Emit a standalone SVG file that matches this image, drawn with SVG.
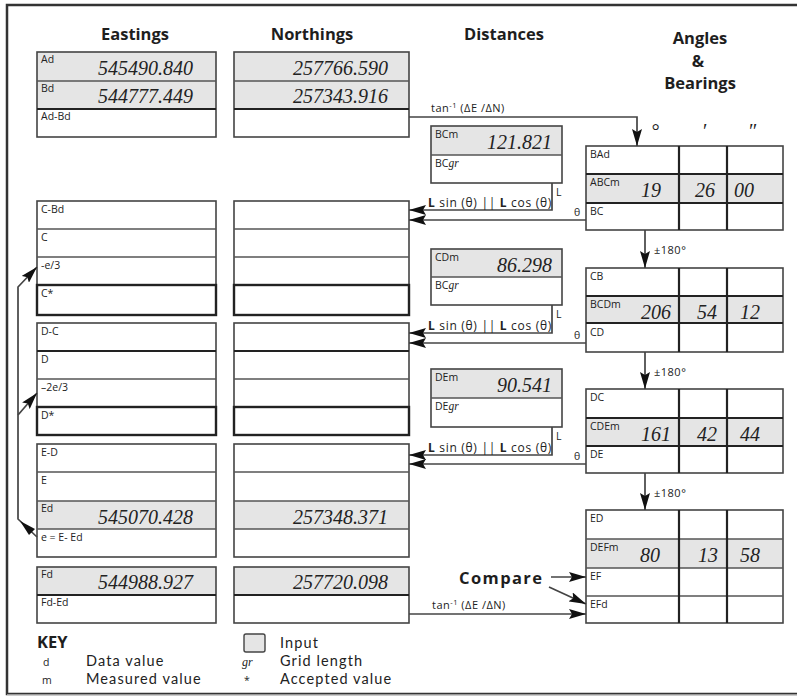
<svg xmlns="http://www.w3.org/2000/svg" width="797" height="697" viewBox="0 0 797 697">
<style>
.bg{fill:#fff}
.box{fill:none;stroke:#444;stroke-width:1.6}
.bold{fill:none;stroke:#222;stroke-width:2.4}
.in{fill:#e5e5e5}
.dv{stroke:#555;stroke-width:1.5}
.dk{stroke:#222;stroke-width:2.2}
.h{font-family:"Open Sans",Lato,sans-serif;font-weight:bold;font-size:16.5px;fill:#1e1e1e}
.lb{font-family:"Open Sans","DejaVu Sans",sans-serif;font-size:10.5px;fill:#222}
.v{font-family:"Liberation Serif",serif;font-style:italic;font-size:20px;fill:#222}
.k{font-family:Lato,"Open Sans",sans-serif;font-size:14.5px;letter-spacing:1.1px;fill:#222}
.gr{font-family:"Liberation Serif",serif;font-style:italic}
.ls{font-size:12px;letter-spacing:0.7px}
.tn{font-size:11px;letter-spacing:0.5px}
.cn{fill:none;stroke:#444;stroke-width:1.7}
.ah{fill:#111}
</style>
<defs>
<marker id="arr" markerUnits="userSpaceOnUse" markerWidth="17" markerHeight="10" refX="17" refY="5" orient="auto"><path d="M0,0 L17,5 L0,10 L3,5 z" class="ah"/></marker>
</defs>
<rect width="797" height="697" class="bg"/>
<path d="M797,5 H7 V694 H797" fill="none" stroke="#333" stroke-width="2.5"/>
<line x1="7" y1="694.5" x2="797" y2="694.5" stroke="#999" stroke-width="1"/>

<!-- headings -->
<g id="headings">
<text class="h" x="135" y="40" text-anchor="middle">Eastings</text>
<text class="h" x="312" y="40" text-anchor="middle">Northings</text>
<text class="h" x="504" y="40" text-anchor="middle">Distances</text>
<text class="h" x="700" y="44" text-anchor="middle">Angles</text>
<text class="h" x="698" y="67" text-anchor="middle">&amp;</text>
<text class="h" x="700" y="89" text-anchor="middle">Bearings</text>
<text class="v" x="655" y="138" font-size="12" fill="#888" text-anchor="middle">°</text>
<text class="v" x="704" y="138" font-size="12" text-anchor="middle">′</text>
<text class="v" x="752" y="138" font-size="12" text-anchor="middle">″</text>
</g>

<!-- Eastings -->
<g id="east-1">
<rect x="37" y="52" width="179" height="57" class="in"/>
<rect x="37" y="52" width="179" height="85" class="box"/>
<line x1="37" y1="81" x2="216" y2="81" class="dv"/>
<line x1="37" y1="109" x2="216" y2="109" class="dk"/>
<text class="lb" x="41" y="63">Ad</text>
<text class="lb" x="41" y="92">Bd</text>
<text class="lb" x="41" y="120">Ad-Bd</text>
<text class="v" x="193" y="75" text-anchor="end">545490.840</text>
<text class="v" x="193" y="103" text-anchor="end">544777.449</text>
</g>
<g id="east-2">
<rect x="37" y="201" width="179" height="114" class="box"/>
<line x1="37" y1="229" x2="216" y2="229" class="dv"/>
<line x1="37" y1="257" x2="216" y2="257" class="dv"/>
<rect x="37" y="285" width="179" height="30" class="bold"/>
<text class="lb" x="41" y="213">C-Bd</text>
<text class="lb" x="41" y="241">C</text>
<text class="lb" x="41" y="269">-e/3</text>
<text class="lb" x="41" y="297">C*</text>
</g>
<g id="east-3">
<rect x="37" y="323" width="179" height="112" class="box"/>
<line x1="37" y1="351" x2="216" y2="351" class="dk"/>
<line x1="37" y1="379" x2="216" y2="379" class="dv"/>
<rect x="37" y="407" width="179" height="28" class="bold"/>
<text class="lb" x="41" y="335">D-C</text>
<text class="lb" x="41" y="363">D</text>
<text class="lb" x="41" y="391">–2e/3</text>
<text class="lb" x="41" y="419">D*</text>
</g>
<g id="east-4">
<rect x="37" y="501" width="179" height="28" class="in"/>
<rect x="37" y="444" width="179" height="113" class="box"/>
<line x1="37" y1="472" x2="216" y2="472" class="dv"/>
<line x1="37" y1="501" x2="216" y2="501" class="dv"/>
<line x1="37" y1="529" x2="216" y2="529" class="dv"/>
<text class="lb" x="41" y="456">E-D</text>
<text class="lb" x="41" y="484">E</text>
<text class="lb" x="41" y="512">Ed</text>
<text class="lb" x="41" y="541">e = E- Ed</text>
<text class="v" x="193" y="524" text-anchor="end">545070.428</text>
</g>
<g id="east-5">
<rect x="37" y="567" width="179" height="28" class="in"/>
<rect x="37" y="567" width="179" height="56" class="box"/>
<line x1="37" y1="595" x2="216" y2="595" class="dk"/>
<text class="lb" x="41" y="578">Fd</text>
<text class="lb" x="41" y="606">Fd-Ed</text>
<text class="v" x="193" y="589" text-anchor="end">544988.927</text>
</g>

<!-- Northings -->
<g id="north-1">
<rect x="234" y="52" width="175" height="57" class="in"/>
<rect x="234" y="52" width="175" height="85" class="box"/>
<line x1="234" y1="81" x2="409" y2="81" class="dv"/>
<line x1="234" y1="109" x2="409" y2="109" class="dk"/>
<text class="v" x="388" y="75" text-anchor="end">257766.590</text>
<text class="v" x="388" y="103" text-anchor="end">257343.916</text>
</g>
<g id="north-2">
<rect x="234" y="201" width="175" height="114" class="box"/>
<line x1="234" y1="229" x2="409" y2="229" class="dv"/>
<line x1="234" y1="257" x2="409" y2="257" class="dv"/>
<rect x="234" y="285" width="175" height="30" class="bold"/>
</g>
<g id="north-3">
<rect x="234" y="323" width="175" height="112" class="box"/>
<line x1="234" y1="351" x2="409" y2="351" class="dk"/>
<line x1="234" y1="379" x2="409" y2="379" class="dv"/>
<rect x="234" y="407" width="175" height="28" class="bold"/>
</g>
<g id="north-4">
<rect x="234" y="501" width="175" height="28" class="in"/>
<rect x="234" y="444" width="175" height="113" class="box"/>
<line x1="234" y1="472" x2="409" y2="472" class="dv"/>
<line x1="234" y1="501" x2="409" y2="501" class="dv"/>
<line x1="234" y1="529" x2="409" y2="529" class="dv"/>
<text class="v" x="388" y="524" text-anchor="end">257348.371</text>
</g>
<g id="north-5">
<rect x="234" y="567" width="175" height="28" class="in"/>
<rect x="234" y="567" width="175" height="56" class="box"/>
<line x1="234" y1="595" x2="409" y2="595" class="dk"/>
<text class="v" x="388" y="589" text-anchor="end">257720.098</text>
</g>

<!-- Distances -->
<g id="dist-BC">
<rect x="431" y="126" width="131" height="29" class="in"/>
<rect x="431" y="126" width="131" height="57" class="box"/>
<line x1="431" y1="155" x2="562" y2="155" class="dv"/>
<text class="lb" x="435" y="138">BCm</text>
<text class="lb" x="435" y="167">BC<tspan class="gr" font-size="11.5">gr</tspan></text>
<text class="v" x="552" y="149" text-anchor="end">121.821</text>
</g>
<g id="dist-CD">
<rect x="431" y="249" width="131" height="28" class="in"/>
<rect x="431" y="249" width="131" height="56" class="box"/>
<line x1="431" y1="277" x2="562" y2="277" class="dv"/>
<text class="lb" x="435" y="261">CDm</text>
<text class="lb" x="435" y="289">BC<tspan class="gr" font-size="11.5">gr</tspan></text>
<text class="v" x="552" y="272" text-anchor="end">86.298</text>
</g>
<g id="dist-DE">
<rect x="431" y="369" width="131" height="29" class="in"/>
<rect x="431" y="369" width="131" height="58" class="box"/>
<line x1="431" y1="398" x2="562" y2="398" class="dv"/>
<text class="lb" x="435" y="381">DEm</text>
<text class="lb" x="435" y="410">DE<tspan class="gr" font-size="11.5">gr</tspan></text>
<text class="v" x="552" y="392" text-anchor="end">90.541</text>
</g>

<!-- Angles & Bearings -->
<g id="ang-1">
<rect x="586" y="174" width="197" height="29" class="in"/>
<rect x="586" y="146" width="197" height="84" class="box"/>
<line x1="586" y1="174" x2="783" y2="174" class="dk"/>
<line x1="586" y1="203" x2="783" y2="203" class="dk"/>
<line x1="679" y1="146" x2="679" y2="230" class="dk"/>
<line x1="727" y1="146" x2="727" y2="230" class="dk"/>
<text class="lb" x="590" y="158">BAd</text>
<text class="lb" x="590" y="186">ABCm</text>
<text class="lb" x="590" y="215">BC</text>
<text class="v" x="641" y="197">19</text>
<text class="v" x="695" y="197">26</text>
<text class="v" x="734" y="197">00</text>
</g>
<g id="ang-2">
<rect x="586" y="296" width="197" height="27" class="in"/>
<rect x="586" y="268" width="197" height="84" class="box"/>
<line x1="586" y1="296" x2="783" y2="296" class="dk"/>
<line x1="586" y1="323" x2="783" y2="323" class="dk"/>
<line x1="679" y1="268" x2="679" y2="352" class="dk"/>
<line x1="727" y1="268" x2="727" y2="352" class="dk"/>
<text class="lb" x="590" y="280">CB</text>
<text class="lb" x="590" y="308">BCDm</text>
<text class="lb" x="590" y="336">CD</text>
<text class="v" x="641" y="319">206</text>
<text class="v" x="697" y="319">54</text>
<text class="v" x="740" y="319">12</text>
</g>
<g id="ang-3">
<rect x="586" y="418" width="197" height="28" class="in"/>
<rect x="586" y="389" width="197" height="84" class="box"/>
<line x1="586" y1="418" x2="783" y2="418" class="dk"/>
<line x1="586" y1="446" x2="783" y2="446" class="dk"/>
<line x1="679" y1="389" x2="679" y2="473" class="dk"/>
<line x1="727" y1="389" x2="727" y2="473" class="dk"/>
<text class="lb" x="590" y="401">DC</text>
<text class="lb" x="590" y="430">CDEm</text>
<text class="lb" x="590" y="458">DE</text>
<text class="v" x="641" y="441">161</text>
<text class="v" x="697" y="441">42</text>
<text class="v" x="740" y="441">44</text>
</g>
<g id="ang-4">
<rect x="586" y="539" width="197" height="29" class="in"/>
<rect x="586" y="510" width="197" height="113" class="box"/>
<line x1="586" y1="539" x2="783" y2="539" class="dv"/>
<line x1="586" y1="568" x2="783" y2="568" class="dv"/>
<line x1="586" y1="596" x2="783" y2="596" class="dv"/>
<line x1="679" y1="510" x2="679" y2="623" class="dk"/>
<line x1="727" y1="510" x2="727" y2="623" class="dk"/>
<text class="lb" x="590" y="522">ED</text>
<text class="lb" x="590" y="551">DEFm</text>
<text class="lb" x="590" y="580">EF</text>
<text class="lb" x="590" y="608">EFd</text>
<text class="v" x="640" y="562">80</text>
<text class="v" x="698" y="562">13</text>
<text class="v" x="740" y="562">58</text>
</g>

<!-- Connectors -->
<g id="connectors">
<path d="M409,117 H637 V146" class="cn" marker-end="url(#arr)"/>
<text class="lb tn" x="431" y="112">tan<tspan font-size="7.5" dy="-4">-1</tspan><tspan dy="4"> (ΔE /ΔN)</tspan></text>

<path d="M645,230 V268" class="cn" marker-end="url(#arr)"/>
<path d="M645,352 V389" class="cn" marker-end="url(#arr)"/>
<path d="M645,473 V510" class="cn" marker-end="url(#arr)"/>
<text class="lb tn" x="654" y="254">±180°</text>
<text class="lb tn" x="654" y="376">±180°</text>
<text class="lb tn" x="654" y="497">±180°</text>

<path d="M552,183 V210 H409" class="cn" marker-end="url(#arr)"/>
<path d="M586,220 H409" class="cn" marker-end="url(#arr)"/>
<text class="lb ls" x="428" y="207"><tspan font-weight="bold">L</tspan> sin (θ) || <tspan font-weight="bold">L</tspan> cos (θ)</text>
<text class="lb" x="556" y="196">L</text>
<text class="lb" x="574" y="216" font-size="12">θ</text>

<path d="M552,305 V333 H409" class="cn" marker-end="url(#arr)"/>
<path d="M586,343 H409" class="cn" marker-end="url(#arr)"/>
<text class="lb ls" x="428" y="330"><tspan font-weight="bold">L</tspan> sin (θ) || <tspan font-weight="bold">L</tspan> cos (θ)</text>
<text class="lb" x="556" y="318">L</text>
<text class="lb" x="574" y="339" font-size="12">θ</text>

<path d="M552,427 V455 H409" class="cn" marker-end="url(#arr)"/>
<path d="M586,464 H409" class="cn" marker-end="url(#arr)"/>
<text class="lb ls" x="428" y="452"><tspan font-weight="bold">L</tspan> sin (θ) || <tspan font-weight="bold">L</tspan> cos (θ)</text>
<text class="lb" x="556" y="440">L</text>
<text class="lb" x="574" y="460" font-size="12">θ</text>

<text class="h" x="459" y="584" font-size="19" letter-spacing="1.4">Compare</text>
<path d="M551,577 H586" class="cn" marker-end="url(#arr)"/>
<path d="M549,587 L586,604" class="cn" marker-end="url(#arr)"/>

<path d="M409,614 H586" class="cn" marker-end="url(#arr)"/>
<text class="lb tn" x="432" y="609">tan<tspan font-size="7.5" dy="-4">-1</tspan><tspan dy="4"> (ΔE /ΔN)</tspan></text>

<path d="M37,537 L18,519 V287 L37,267" class="cn" marker-end="url(#arr)"/>
<path d="M18,415 L37,393" class="cn" marker-end="url(#arr)"/>
<path d="M20,521 L35,529 L29,535 z" class="ah"/>
</g>

<!-- Key -->
<g id="key">
<text class="h" x="37" y="648" font-size="17">KEY</text>
<text class="lb" x="43" y="666" font-size="10.5">d</text>
<text class="k" x="86" y="666">Data value</text>
<text class="lb" x="42" y="684" font-size="10.5">m</text>
<text class="k" x="86" y="684">Measured value</text>
<rect x="244" y="634" width="21" height="18" rx="2" fill="#e5e5e5" stroke="#444" stroke-width="1.4"/>
<text class="k" x="280" y="648">Input</text>
<text class="gr" x="242" y="666" font-size="12" fill="#222">gr</text>
<text class="k" x="280" y="666">Grid length</text>
<text class="lb" x="244" y="684" font-size="10.5">*</text>
<text class="k" x="280" y="684">Accepted value</text>
</g>
</svg>
